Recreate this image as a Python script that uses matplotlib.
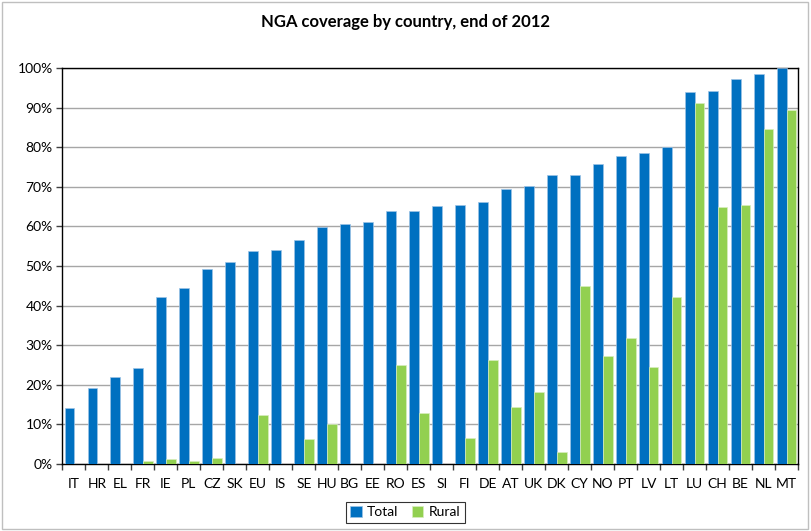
import numpy as np
import matplotlib.pyplot as plt
from matplotlib.patches import Rectangle

countries = ["IT", "HR", "EL", "FR", "IE", "PL", "CZ", "SK", "EU", "IS", "SE", "HU",
             "BG", "EE", "RO", "ES", "SI", "FI", "DE", "AT", "UK", "DK", "CY", "NO",
             "PT", "LV", "LT", "LU", "CH", "BE", "NL", "MT"]
total = [14.1, 19.2, 22.0, 24.2, 42.2, 44.5, 49.3, 51.1, 53.8, 54.1, 56.6, 59.8,
         60.6, 61.0, 63.9, 64.0, 65.2, 65.4, 66.2, 69.5, 70.3, 73.0, 73.0, 75.8,
         77.8, 78.5, 80.0, 93.9, 94.2, 97.1, 98.4, 100.0]
rural = [0.0, 0.0, 0.0, 0.7, 1.4, 0.7, 1.5, 0.0, 12.4, 0.0, 6.3, 10.1,
         0.0, 0.0, 25.1, 13.0, 0.0, 6.6, 26.4, 14.5, 18.3, 3.0, 45.0, 27.2,
         31.8, 24.5, 42.2, 91.2, 64.8, 65.4, 84.6, 89.5]

plt.rcParams['font.family'] = ['Lato', 'DejaVu Sans']

fig = plt.figure(figsize=(8.11, 5.31), dpi=100)
ax = fig.add_axes([0.077, 0.126, 0.907, 0.746])

x = np.arange(len(countries))
w = 0.41
ax.bar(x - w / 2, total, w, color='#0070c0', edgecolor='#9dc3e6', linewidth=0.5, label='Total', zorder=3)
ax.bar(x + w / 2 + 0.02, rural, w, color='#92d050', edgecolor='#d8eebf', linewidth=0.5, label='Rural', zorder=3)

ax.set_xlim(-0.5, len(countries) - 0.5)
ax.set_ylim(0, 100)
ax.set_yticks(np.arange(0, 101, 10))
ax.set_yticklabels([f"{v}%" for v in range(0, 101, 10)], fontsize=10)
ax.yaxis.grid(True, color='#a6a6a6', linewidth=1, zorder=0)

ax.set_xticks(x)
ax.set_xticklabels(countries, fontsize=10)
ax.tick_params(axis='x', length=0, pad=10)
ax.set_xticks(np.arange(-0.5, len(countries)), minor=True)
ax.tick_params(axis='x', which='minor', length=4, width=1, color='#404040', direction='out')
ax.tick_params(axis='y', length=4, width=1, color='#404040', direction='out', pad=3)

for s in ax.spines.values():
    s.set_color('black')
    s.set_linewidth(1)

fig.text(0.5, 0.958, "NGA coverage by country, end of 2012", ha='center', va='center',
         fontsize=12, fontweight='bold')

handles, labels = ax.get_legend_handles_labels()
leg = fig.legend(handles, labels, loc='center', bbox_to_anchor=(0.5, 0.035), ncol=2, frameon=True,
                 fancybox=False, edgecolor='black', fontsize=10, handlelength=0.8,
                 handleheight=0.8, handletextpad=0.4, columnspacing=1.0, borderpad=0.3)
leg.get_frame().set_linewidth(0.8)

fig.patches.append(Rectangle((0.002, 0.003), 0.994, 0.994, transform=fig.transFigure,
                             fill=False, edgecolor='#bfbfbf', linewidth=1))

fig.savefig("out.png", dpi=100)
